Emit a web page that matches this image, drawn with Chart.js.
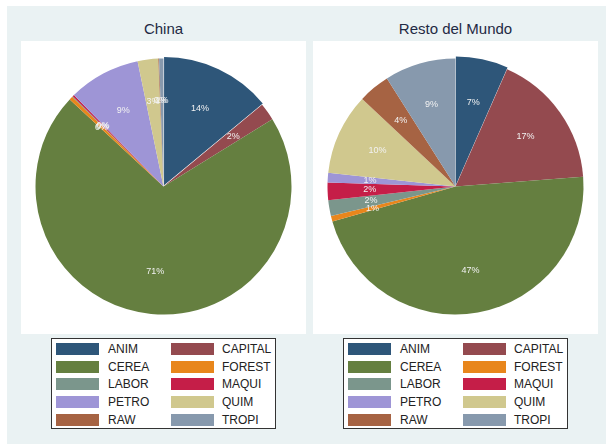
<!DOCTYPE html>
<html>
<head>
<meta charset="utf-8">
<script src="https://cdn.jsdelivr.net/npm/chart.js@4"></script>
<style>
  body { margin: 0; background: #fff; font-family: "Liberation Sans", Arial, sans-serif; }
  #wrap { position: relative; width: 606px; height: 444px; }
  #bg { position: absolute; left: 7px; top: 6px; width: 599px; height: 438px; background: #eaf2f3; }
  .title { position: absolute; top: 20px; width: 285px; text-align: center; font-size: 15px; color: #1f2a44; }
  .plot { position: absolute; top: 41px; width: 285px; height: 293px; background: #fff; }
  .legend { position: absolute; top: 338px; width: 223px; height: 89px; background: #fff; border: 1px solid #333; }
  .sw { position: absolute; width: 43px; height: 12px; }
  .lt { position: absolute; font-size: 12px; color: #222; line-height: 14px; }
</style>
</head>
<body>
<div id="wrap">
  <div id="bg"></div>
  <div class="title" style="left:21px">China</div>
  <div class="title" style="left:313px">Resto del Mundo</div>
  <div class="plot" style="left:21px"><canvas id="pieChina" width="285" height="293"></canvas></div>
  <div class="plot" style="left:313px"><canvas id="pieRest" width="285" height="293"></canvas></div>
  <div class="legend" id="legChina" style="left:51px"></div>
  <div class="legend" id="legRest" style="left:343px"></div>
</div>
<script>
const sectors = ['ANIM', 'CAPITAL', 'CEREA', 'FOREST', 'LABOR', 'MAQUI', 'PETRO', 'QUIM', 'RAW', 'TROPI']
const colors = ['#2e5679', '#944a4f', '#657f40', '#e8861c', '#7b968c', '#c51e48', '#9e95d6', '#d0c88e', '#a66343', '#8799ad']
// shares in percent
const china = [14.0, 2.2, 70.8, 0.45, 0.1, 0.2, 9.1, 2.6, 0.1, 0.55]
const resto = [6.6, 17.2, 46.8, 0.7, 2.0, 2.2, 1.2, 10.3, 4.0, 9.0]

// percent labels drawn inside each slice
const sliceLabels = {
    id: 'sliceLabels',
    afterDatasetsDraw(chart) {
        const ctx = chart.ctx
        const meta = chart.getDatasetMeta(0)
        const data = chart.data.datasets[0].data
        const total = data.reduce((a, b) => a + b, 0)
        ctx.save()
        ctx.font = '9px "Liberation Sans", Arial, sans-serif'
        ctx.fillStyle = '#f2f2f2'
        ctx.textAlign = 'center'
        ctx.textBaseline = 'middle'
        meta.data.forEach(function (arc, i) {
            const p = arc.getProps(['x', 'y', 'startAngle', 'endAngle', 'outerRadius'], true)
            const mid = (p.startAngle + p.endAngle) / 2
            const r = p.outerRadius * 0.67
            const pct = Math.round(data[i] / total * 100)
            ctx.fillText(pct + '%', p.x + Math.cos(mid) * r, p.y + Math.sin(mid) * r)
        })
        ctx.restore()
    }
}

function makePie(id, values) {
    new Chart(document.getElementById(id), {
        type: 'pie',
        data: {
            labels: sectors,
            datasets: [{
                data: values,
                backgroundColor: colors,
                borderWidth: 0,
                // first slice pulled out
                offset: [5, 0, 0, 0, 0, 0, 0, 0, 0, 0]
            }]
        },
        options: {
            responsive: false,
            animation: false,
            radius: 128,
            layout: { padding: { bottom: 2 } },
            plugins: {
                legend: { display: false },
                tooltip: { enabled: false }
            }
        },
        plugins: [sliceLabels]
    });
}

function makeLegend(id) {
    const box = document.getElementById(id)
    for (let i = 0; i < sectors.length; i++) {
        const col = i % 2
        const row = Math.floor(i / 2)
        const top = 4 + row * 17.7
        const sw = document.createElement('div')
        sw.className = 'sw'
        sw.style.left = (4 + col * 115) + 'px'
        sw.style.top = top + 'px'
        sw.style.background = colors[i]
        box.appendChild(sw)
        const t = document.createElement('div')
        t.className = 'lt'
        t.style.left = (56 + col * 114) + 'px'
        t.style.top = (top - 1) + 'px'
        t.textContent = sectors[i]
        box.appendChild(t)
    }
}

makePie('pieChina', china)
makePie('pieRest', resto)
makeLegend('legChina')
makeLegend('legRest')
</script>
</body>
</html>
